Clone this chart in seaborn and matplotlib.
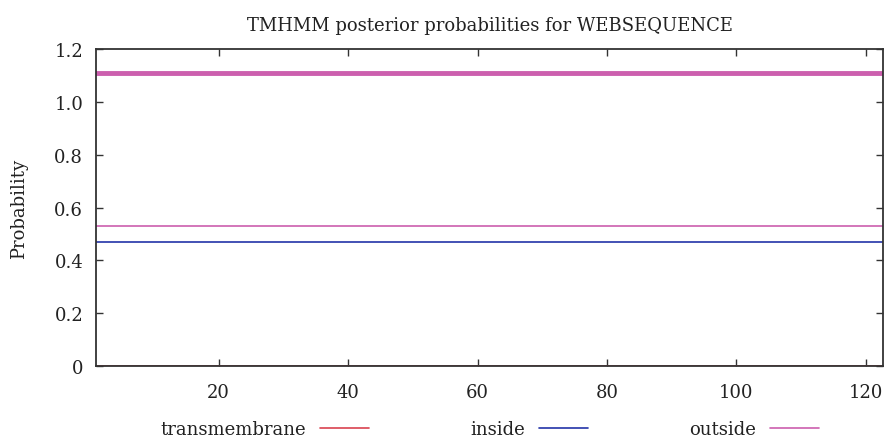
import matplotlib
matplotlib.use("Agg")
import matplotlib.pyplot as plt
import seaborn as sns
import pandas as pd

# data
positions = [1, 123]
transmembrane = [0.0, 0.0]
inside = [0.47, 0.47]
outside = [0.53, 0.53]
topology_pos = [1, 123]
topology_val = [1.11, 1.11]
x_ticks = [20, 40, 60, 80, 100, 120]
y_ticks = [0, 0.2, 0.4, 0.6, 0.8, 1.0, 1.2]
y_tick_labels = ["0", "0.2", "0.4", "0.6", "0.8", "1.0", "1.2"]

sns.set_theme(style="white")
plt.rcParams["font.family"] = ["DejaVu Serif"]

fig = plt.figure(figsize=(8.86, 4.39), dpi=100)
ax = fig.add_axes([0.108, 0.164, 0.889, 0.722])

c_tm = "#d9424f"
c_in = "#2233a8"
c_out = "#cc5fae"

df_tm = pd.DataFrame({"pos": positions, "p": transmembrane})
df_in = pd.DataFrame({"pos": positions, "p": inside})
df_out = pd.DataFrame({"pos": positions, "p": outside})
df_top = pd.DataFrame({"pos": topology_pos, "p": topology_val})

sns.lineplot(data=df_tm, x="pos", y="p", ax=ax, color=c_tm, lw=1.2, label="transmembrane", zorder=1)
sns.lineplot(data=df_in, x="pos", y="p", ax=ax, color=c_in, lw=1.2, label="inside", zorder=2)
sns.lineplot(data=df_out, x="pos", y="p", ax=ax, color=c_out, lw=1.2, label="outside", zorder=2)
sns.lineplot(data=df_top, x="pos", y="p", ax=ax, color=c_out, lw=3.5, zorder=2, legend=False)

ax.set_xlim(1, 122.7)
ax.set_ylim(0, 1.2)
ax.set_xticks(x_ticks)
ax.set_yticks(y_ticks)
ax.set_yticklabels(y_tick_labels)
ax.tick_params(direction="in", length=5, width=1, colors="#333333",
               labelcolor="#222222", labelsize=13, top=True, right=True,
               bottom=True, left=True, labeltop=False, labelright=False, pad=9)
ax.tick_params(axis="x", pad=12)
for s in ax.spines.values():
    s.set_color("#333333")
    s.set_linewidth(1.3)
    s.set_zorder(3)
ax.set_xlabel("")
ax.set_ylabel("Probability", fontsize=13, color="#222222", labelpad=19)
ax.set_title("TMHMM posterior probabilities for WEBSEQUENCE", fontsize=13,
             color="#222222", pad=14)

handles, labels = ax.get_legend_handles_labels()
leg = ax.legend(handles, labels, ncol=3, markerfirst=False, frameon=False,
                loc="upper center", bbox_to_anchor=(0.5, -0.13),
                fontsize=13, handlelength=2.7, columnspacing=5.6, handletextpad=0.8,
                borderpad=0.2)
for t in leg.get_texts():
    t.set_color("#222222")

fig.savefig("out.png", dpi=100, facecolor="white")
